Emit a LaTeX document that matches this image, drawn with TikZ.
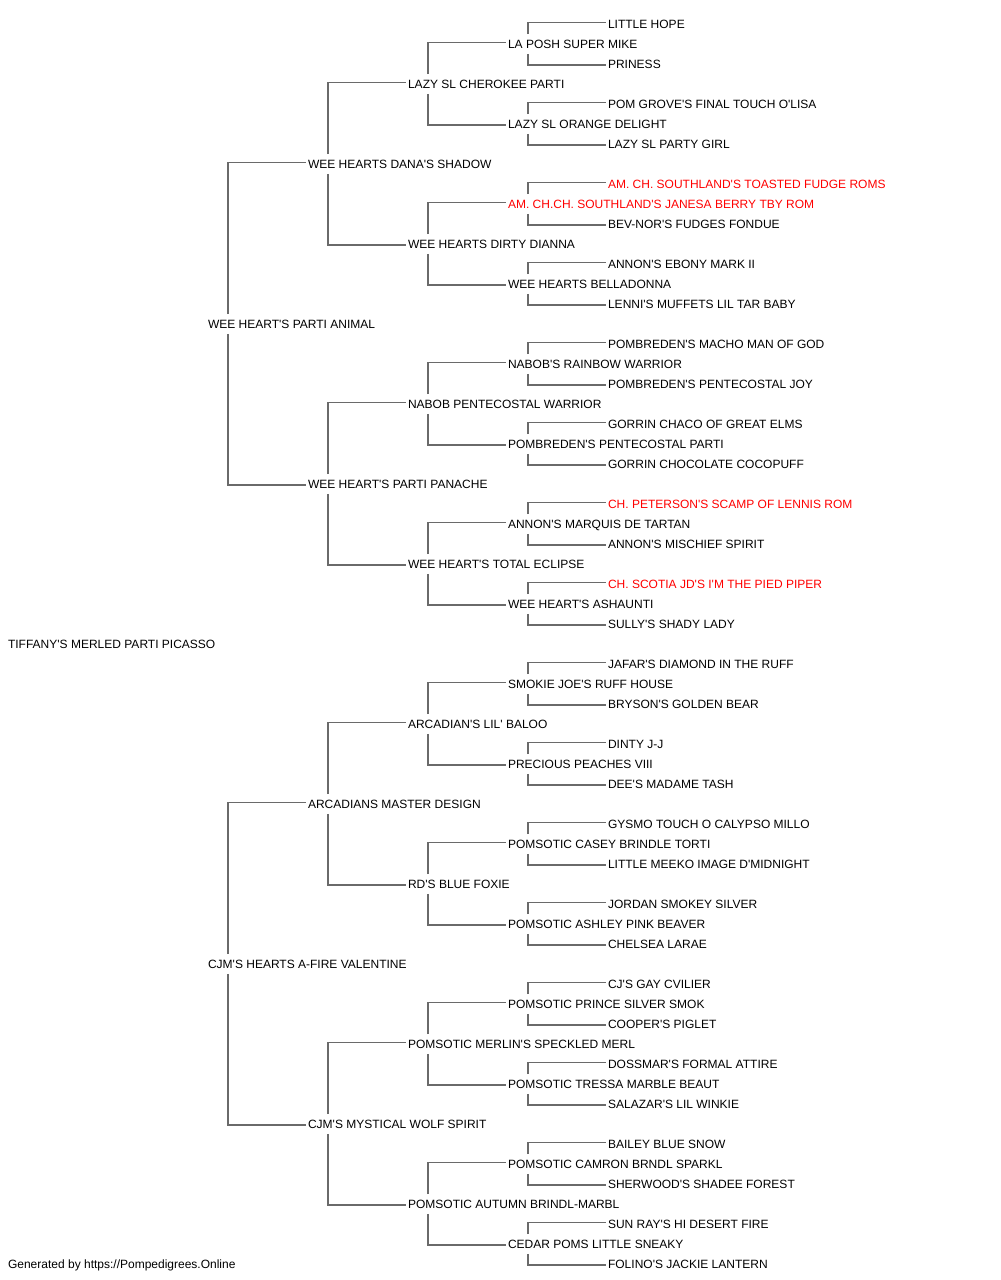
\documentclass[tikz,border=0pt]{standalone}
\usepackage{fontspec}
\newfontfamily\dogfont{Liberation Sans}
\definecolor{linegray}{HTML}{6A6A6A}
\definecolor{champred}{HTML}{FF0000}

\begin{document}
\begin{tikzpicture}[x=0.75pt, y=-0.75pt, line width=0.9pt, draw=linegray,
    dog/.style = {anchor=west, xshift=-0.4pt, inner xsep=0pt, inner ysep=3.75pt, text height=6.45pt, text depth=0pt, font=\dogfont\fontsize{9}{11}\selectfont},
    champ/.style = {dog, text=champred},
    up/.style = {to path={([xshift=15.4pt]\tikztostart.north west) |- ([xshift=-1.1pt, yshift=1.2pt]\tikztotarget.west)}},
    dn/.style = {to path={([xshift=15.4pt]\tikztostart.south west) |- ([xshift=-1.1pt, yshift=-0.75pt]\tikztotarget.west)}}]
			\useasboundingbox (0,0) rectangle (1000,1280);
			\node[dog] (p) at (8,644) {TIFFANY'S MERLED PARTI PICASSO};
			\node[dog] (s) at (208,324) {WEE HEART'S PARTI ANIMAL};
			\node[dog] (d) at (208,964) {CJM'S HEARTS A-FIRE VALENTINE};
			\node[dog] (ss) at (308,164) {WEE HEARTS DANA'S SHADOW};
			\node[dog] (sd) at (308,484) {WEE HEART'S PARTI PANACHE};
			\node[dog] (ds) at (308,804) {ARCADIANS MASTER DESIGN};
			\node[dog] (dd) at (308,1124) {CJM'S MYSTICAL WOLF SPIRIT};
			\node[dog] (sss) at (408,84) {LAZY SL CHEROKEE PARTI};
			\node[dog] (ssd) at (408,244) {WEE HEARTS DIRTY DIANNA};
			\node[dog] (sds) at (408,404) {NABOB PENTECOSTAL WARRIOR};
			\node[dog] (sdd) at (408,564) {WEE HEART'S TOTAL ECLIPSE};
			\node[dog] (dss) at (408,724) {ARCADIAN'S LIL' BALOO};
			\node[dog] (dsd) at (408,884) {RD'S BLUE FOXIE};
			\node[dog] (dds) at (408,1044) {POMSOTIC MERLIN'S SPECKLED MERL};
			\node[dog] (ddd) at (408,1204) {POMSOTIC AUTUMN BRINDL-MARBL};
			\node[dog] (ssss) at (508,44) {LA POSH SUPER MIKE};
			\node[dog] (sssd) at (508,124) {LAZY SL ORANGE DELIGHT};
			\node[champ] (ssds) at (508,204) {AM. CH.CH. SOUTHLAND'S JANESA BERRY TBY ROM};
			\node[dog] (ssdd) at (508,284) {WEE HEARTS BELLADONNA};
			\node[dog] (sdss) at (508,364) {NABOB'S RAINBOW WARRIOR};
			\node[dog] (sdsd) at (508,444) {POMBREDEN'S PENTECOSTAL PARTI};
			\node[dog] (sdds) at (508,524) {ANNON'S MARQUIS DE TARTAN};
			\node[dog] (sddd) at (508,604) {WEE HEART'S ASHAUNTI};
			\node[dog] (dsss) at (508,684) {SMOKIE JOE'S RUFF HOUSE};
			\node[dog] (dssd) at (508,764) {PRECIOUS PEACHES VIII};
			\node[dog] (dsds) at (508,844) {POMSOTIC CASEY BRINDLE TORTI};
			\node[dog] (dsdd) at (508,924) {POMSOTIC ASHLEY PINK BEAVER};
			\node[dog] (ddss) at (508,1004) {POMSOTIC PRINCE SILVER SMOK};
			\node[dog] (ddsd) at (508,1084) {POMSOTIC TRESSA MARBLE BEAUT};
			\node[dog] (ddds) at (508,1164) {POMSOTIC CAMRON BRNDL SPARKL};
			\node[dog] (dddd) at (508,1244) {CEDAR POMS LITTLE SNEAKY};
			\node[dog] (sssss) at (608,24) {LITTLE HOPE};
			\node[dog] (ssssd) at (608,64) {PRINESS};
			\node[dog] (sssds) at (608,104) {POM GROVE'S FINAL TOUCH O'LISA};
			\node[dog] (sssdd) at (608,144) {LAZY SL PARTY GIRL};
			\node[champ] (ssdss) at (608,184) {AM. CH. SOUTHLAND'S TOASTED FUDGE ROMS};
			\node[dog] (ssdsd) at (608,224) {BEV-NOR'S FUDGES FONDUE};
			\node[dog] (ssdds) at (608,264) {ANNON'S EBONY MARK II};
			\node[dog] (ssddd) at (608,304) {LENNI'S MUFFETS LIL TAR BABY};
			\node[dog] (sdsss) at (608,344) {POMBREDEN'S MACHO MAN OF GOD};
			\node[dog] (sdssd) at (608,384) {POMBREDEN'S PENTECOSTAL JOY};
			\node[dog] (sdsds) at (608,424) {GORRIN CHACO OF GREAT ELMS};
			\node[dog] (sdsdd) at (608,464) {GORRIN CHOCOLATE COCOPUFF};
			\node[champ] (sddss) at (608,504) {CH. PETERSON'S SCAMP OF LENNIS ROM};
			\node[dog] (sddsd) at (608,544) {ANNON'S MISCHIEF SPIRIT};
			\node[champ] (sddds) at (608,584) {CH. SCOTIA JD'S I'M THE PIED PIPER};
			\node[dog] (sdddd) at (608,624) {SULLY'S SHADY LADY};
			\node[dog] (dssss) at (608,664) {JAFAR'S DIAMOND IN THE RUFF};
			\node[dog] (dsssd) at (608,704) {BRYSON'S GOLDEN BEAR};
			\node[dog] (dssds) at (608,744) {DINTY J-J};
			\node[dog] (dssdd) at (608,784) {DEE'S MADAME TASH};
			\node[dog] (dsdss) at (608,824) {GYSMO TOUCH O CALYPSO MILLO};
			\node[dog] (dsdsd) at (608,864) {LITTLE MEEKO IMAGE D'MIDNIGHT};
			\node[dog] (dsdds) at (608,904) {JORDAN SMOKEY SILVER};
			\node[dog] (dsddd) at (608,944) {CHELSEA LARAE};
			\node[dog] (ddsss) at (608,984) {CJ'S GAY CVILIER};
			\node[dog] (ddssd) at (608,1024) {COOPER'S PIGLET};
			\node[dog] (ddsds) at (608,1064) {DOSSMAR'S FORMAL ATTIRE};
			\node[dog] (ddsdd) at (608,1104) {SALAZAR'S LIL WINKIE};
			\node[dog] (dddss) at (608,1144) {BAILEY BLUE SNOW};
			\node[dog] (dddsd) at (608,1184) {SHERWOOD'S SHADEE FOREST};
			\node[dog] (dddds) at (608,1224) {SUN RAY'S HI DESERT FIRE};
			\node[dog] (ddddd) at (608,1264) {FOLINO'S JACKIE LANTERN};
			\node[dog] (credit) at (8,1264) {Generated by https://Pompedigrees.Online};
			\path[draw]
				(s) edge[up] (ss) edge[dn] (sd)
				(d) edge[up] (ds) edge[dn] (dd)
				(ss) edge[up] (sss) edge[dn] (ssd)
				(sd) edge[up] (sds) edge[dn] (sdd)
				(ds) edge[up] (dss) edge[dn] (dsd)
				(dd) edge[up] (dds) edge[dn] (ddd)
				(sss) edge[up] (ssss) edge[dn] (sssd)
				(ssd) edge[up] (ssds) edge[dn] (ssdd)
				(sds) edge[up] (sdss) edge[dn] (sdsd)
				(sdd) edge[up] (sdds) edge[dn] (sddd)
				(dss) edge[up] (dsss) edge[dn] (dssd)
				(dsd) edge[up] (dsds) edge[dn] (dsdd)
				(dds) edge[up] (ddss) edge[dn] (ddsd)
				(ddd) edge[up] (ddds) edge[dn] (dddd)
				(ssss) edge[up] (sssss) edge[dn] (ssssd)
				(sssd) edge[up] (sssds) edge[dn] (sssdd)
				(ssds) edge[up] (ssdss) edge[dn] (ssdsd)
				(ssdd) edge[up] (ssdds) edge[dn] (ssddd)
				(sdss) edge[up] (sdsss) edge[dn] (sdssd)
				(sdsd) edge[up] (sdsds) edge[dn] (sdsdd)
				(sdds) edge[up] (sddss) edge[dn] (sddsd)
				(sddd) edge[up] (sddds) edge[dn] (sdddd)
				(dsss) edge[up] (dssss) edge[dn] (dsssd)
				(dssd) edge[up] (dssds) edge[dn] (dssdd)
				(dsds) edge[up] (dsdss) edge[dn] (dsdsd)
				(dsdd) edge[up] (dsdds) edge[dn] (dsddd)
				(ddss) edge[up] (ddsss) edge[dn] (ddssd)
				(ddsd) edge[up] (ddsds) edge[dn] (ddsdd)
				(ddds) edge[up] (dddss) edge[dn] (dddsd)
				(dddd) edge[up] (dddds) edge[dn] (ddddd);
		\end{tikzpicture}
\end{document}
